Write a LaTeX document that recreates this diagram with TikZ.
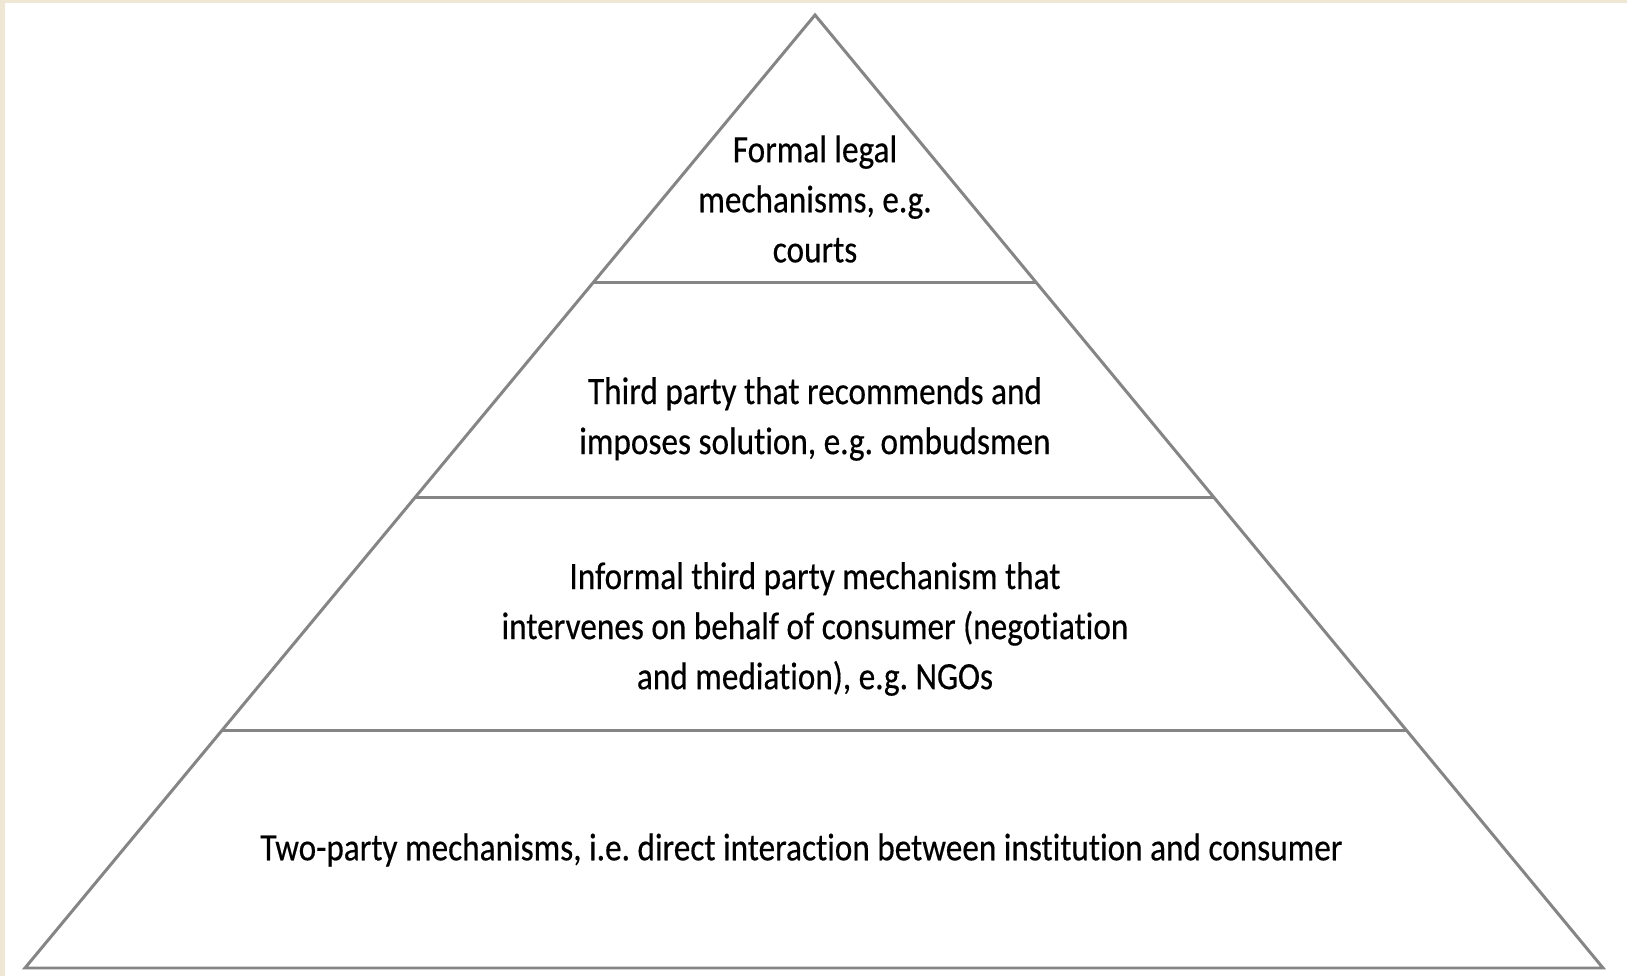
\documentclass[tikz,border=0pt]{standalone}
\usepackage{fontspec}
\setmainfont{Carlito}[FakeStretch=0.86, FakeBold=0.4, Ligatures=CommonOff]
\usetikzlibrary{calc}
\definecolor{framebeige}{HTML}{F0E6D4}
\definecolor{edgegray}{HTML}{858585}
\frenchspacing

\begin{document}
\begin{tikzpicture}[line width=1.7pt]
		\tikzset{tier/.style={align=center, font=\fontsize{22}{28.5}\selectfont, inner sep=0pt}}
		\fill[framebeige] (0,0) rectangle (32.54,19.52);
		\fill[white] (0.1,0) rectangle (32.54,19.46);
		\useasboundingbox (0,0) rectangle (32.54,19.52);

		\coordinate (apex) at (16.30,19.22);
		\coordinate (bl) at (0.50,0.16);
		\coordinate (br) at (32.06,0.16);

		\draw[color=edgegray, line join=miter] (bl) -- (apex) -- (br) -- cycle;
		\draw[color=edgegray] ($(apex)!0.2812!(bl)$) -- ($(apex)!0.2812!(br)$);
		\draw[color=edgegray] ($(apex)!0.5058!(bl)$) -- ($(apex)!0.5058!(br)$);
		\draw[color=edgegray] ($(apex)!0.7503!(bl)$) -- ($(apex)!0.7503!(br)$);

		\node[tier] (courts) at (16.30,15.54) {Formal legal\\mechanisms, e.g.\\courts};
		\node[tier] (ombuds) at (16.30,11.14) {Third party that recommends and\\imposes solution, e.g. ombudsmen};
		\node[tier] (ngos) at (16.30,6.94) {Informal third party mechanism that\\intervenes on behalf of consumer (negotiation\\and mediation), e.g. NGOs};
		\node[tier] (twoparty) at (16.03,2.52) {Two-party mechanisms, i.e. direct interaction between institution and consumer};
	\end{tikzpicture}
\end{document}
